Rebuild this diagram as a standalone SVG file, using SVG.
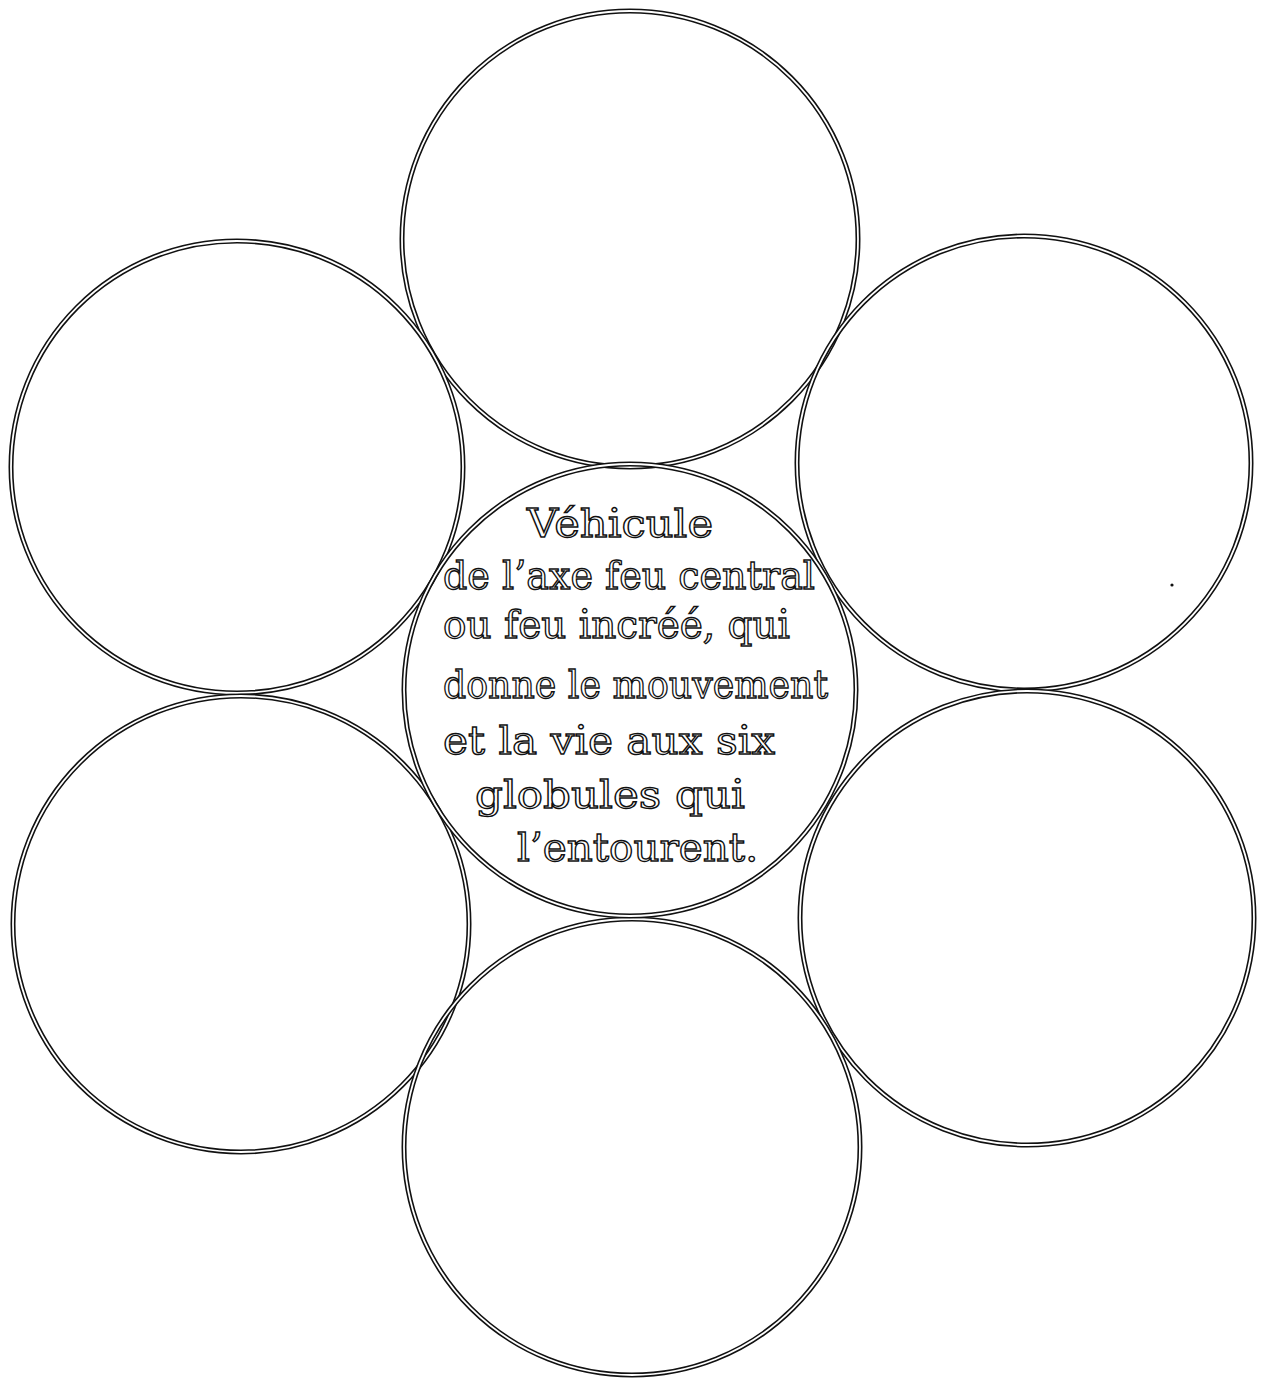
<svg xmlns="http://www.w3.org/2000/svg" width="1262" height="1379" viewBox="0 0 1262 1379">
  <style>
    .ring { fill: none; stroke: #111; stroke-width: 5; }
    .core { fill: none; stroke: #fff; stroke-width: 1.8; }
    .label { font-family: "DejaVu Serif", "Liberation Serif", serif; font-size: 40px; fill: #fff; stroke: #111; stroke-width: 1.4; }
  </style>
  <rect width="1262" height="1379" fill="#fff"/>
  <g id="node-top">
    <circle class="ring" cx="630" cy="239" r="228"/>
    <circle class="core" cx="630" cy="239" r="228"/>
  </g>
  <g id="node-upper-left">
    <circle class="ring" cx="237" cy="467" r="226"/>
    <circle class="core" cx="237" cy="467" r="226"/>
  </g>
  <g id="node-upper-right">
    <circle class="ring" cx="1024" cy="463" r="227"/>
    <circle class="core" cx="1024" cy="463" r="227"/>
  </g>
  <g id="node-lower-left">
    <circle class="ring" cx="241" cy="924" r="228"/>
    <circle class="core" cx="241" cy="924" r="228"/>
  </g>
  <g id="node-lower-right">
    <circle class="ring" cx="1027" cy="918" r="227"/>
    <circle class="core" cx="1027" cy="918" r="227"/>
  </g>
  <g id="node-bottom">
    <circle class="ring" cx="632" cy="1147" r="228"/>
    <circle class="core" cx="632" cy="1147" r="228"/>
  </g>
  <g id="node-center">
    <circle class="ring" cx="630" cy="690" r="226"/>
    <circle class="core" cx="630" cy="690" r="226"/>
    <text class="label" x="527" y="537" textLength="186" lengthAdjust="spacingAndGlyphs">Véhicule</text>
    <text class="label" x="443" y="589" textLength="372" lengthAdjust="spacingAndGlyphs">de l’axe feu central</text>
    <text class="label" x="443" y="638" textLength="347" lengthAdjust="spacingAndGlyphs">ou feu incréé, qui</text>
    <text class="label" x="443" y="698" textLength="385" lengthAdjust="spacingAndGlyphs">donne le mouvement</text>
    <text class="label" x="443" y="754" textLength="332" lengthAdjust="spacingAndGlyphs">et la vie aux six</text>
    <text class="label" x="475" y="808" textLength="270" lengthAdjust="spacingAndGlyphs">globules qui</text>
    <text class="label" x="517" y="861" textLength="241" lengthAdjust="spacingAndGlyphs">l’entourent.</text>
  </g>
  <circle cx="1172" cy="585" r="1.6" fill="#111"/>
</svg>
